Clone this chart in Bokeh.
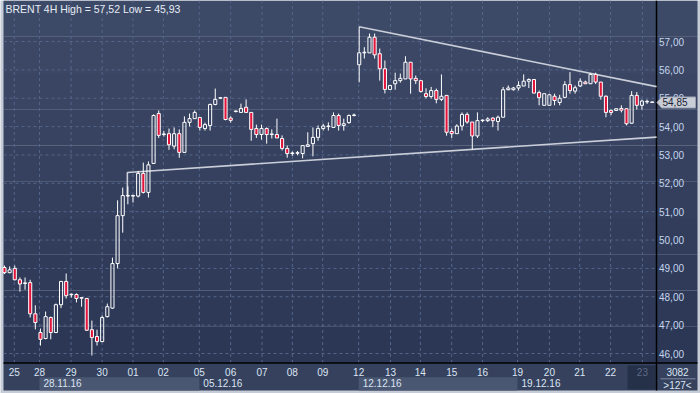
import numpy as np
from bokeh.plotting import figure
from bokeh.models import Range1d
from bokeh.core.properties import value
from bokeh.embed import file_html
from bokeh.resources import INLINE

# ---------------- data ----------------
opens = [49.03, 48.85, 49.00, 48.60, 48.47, 48.50, 47.40, 46.74, 46.53, 47.27,
         46.74, 47.72, 48.54, 48.08, 48.08, 47.96, 47.94, 46.84, 46.60, 46.42,
         47.30, 47.60, 49.17, 50.86, 51.55, 51.55, 51.55, 52.35, 51.68, 52.70,
         54.46, 53.72, 53.75, 53.31, 53.75, 53.09, 54.15, 54.28, 54.32, 53.93,
         54.04, 54.78, 55.00, 55.03, 54.30, 54.53, 54.50, 54.68, 54.50, 53.93,
         53.72, 53.93, 53.72, 53.72, 53.58, 53.23, 53.05, 53.06, 53.05, 53.30,
         53.40, 53.62, 53.93, 54.00, 53.97, 54.39, 54.04, 54.14, 54.39, 56.18,
         56.60, 56.60, 57.15, 56.57, 56.04, 55.31, 55.51, 55.62, 55.68, 56.27,
         55.70, 55.62, 55.16, 55.06, 55.27, 54.96, 55.10, 53.83, 53.75, 54.02,
         54.43, 54.16, 53.67, 54.21, 54.21, 54.30, 54.18, 54.33, 55.30, 55.30,
         55.36, 55.43, 55.60, 55.66, 55.20, 54.75, 54.75, 55.07, 54.85, 55.03,
         55.48, 55.25, 55.43, 55.57, 55.51, 55.84, 55.57, 55.07, 54.57, 54.57,
         54.64, 54.63, 54.12, 55.10, 54.75, 54.87, 54.86]
highs = [49.10, 49.07, 49.10, 48.68, 48.68, 48.60, 47.70, 46.88, 47.48, 47.30,
         47.76, 48.56, 48.82, 48.12, 48.12, 47.98, 47.96, 47.16, 46.84, 47.34,
         47.76, 49.38, 51.40, 51.85, 51.89, 51.60, 52.44, 52.73, 52.77, 54.43,
         54.57, 53.85, 53.93, 53.97, 53.90, 54.36, 54.46, 54.57, 54.32, 54.14,
         54.81, 55.34, 55.03, 55.03, 54.36, 54.56, 54.81, 54.96, 54.50, 54.07,
         54.07, 53.97, 53.90, 54.28, 53.69, 53.33, 53.12, 53.14, 53.33, 53.80,
         53.97, 54.04, 54.10, 54.15, 54.50, 54.46, 54.28, 54.43, 54.46, 57.52,
         56.80, 57.28, 57.28, 56.75, 56.33, 55.45, 55.90, 55.87, 56.48, 56.27,
         55.80, 55.62, 55.35, 55.40, 55.34, 55.84, 55.10, 53.93, 54.08, 54.50,
         54.50, 54.16, 54.50, 54.25, 54.33, 54.33, 54.39, 55.40, 55.45, 55.40,
         55.60, 55.84, 55.70, 55.66, 55.27, 55.16, 55.16, 55.16, 55.12, 55.60,
         55.92, 55.45, 55.70, 55.62, 55.88, 55.90, 55.57, 55.10, 54.60, 54.63,
         54.75, 54.63, 55.25, 55.22, 54.95, 54.95, 54.88]
lows = [48.80, 48.83, 48.58, 48.18, 48.25, 47.27, 46.85, 46.28, 46.50, 46.50,
        46.72, 47.60, 47.94, 47.97, 47.80, 47.65, 46.80, 45.93, 46.28, 46.40,
        47.27, 47.58, 49.00, 50.26, 51.26, 51.32, 51.50, 51.64, 51.50, 52.70,
        53.60, 53.65, 53.18, 53.20, 52.90, 53.09, 54.00, 54.28, 53.86, 53.86,
        53.86, 54.75, 54.97, 54.22, 54.14, 54.50, 54.50, 54.50, 53.50, 53.60,
        53.54, 53.40, 53.58, 53.60, 53.16, 52.90, 52.97, 52.99, 52.88, 53.30,
        52.95, 53.50, 53.86, 53.86, 53.97, 53.86, 53.86, 54.10, 54.36, 55.56,
        56.40, 56.60, 56.40, 55.62, 55.17, 55.31, 55.30, 55.55, 55.68, 55.16,
        55.50, 55.20, 54.99, 54.99, 54.82, 54.90, 53.68, 53.60, 53.75, 53.86,
        54.10, 53.19, 53.60, 54.16, 54.16, 53.98, 53.86, 54.33, 55.28, 55.27,
        55.27, 55.43, 55.36, 55.18, 54.75, 54.75, 54.75, 54.75, 54.75, 55.00,
        55.16, 55.16, 55.40, 55.50, 55.50, 55.50, 54.95, 54.33, 54.40, 54.55,
        54.50, 54.04, 54.10, 54.60, 54.60, 54.80, 54.84]
closes = [48.85, 48.95, 48.60, 48.45, 48.48, 47.40, 47.09, 46.50, 47.30, 46.74,
          47.72, 48.54, 48.04, 48.07, 47.94, 47.95, 46.82, 46.56, 46.42, 47.27,
          47.65, 49.17, 50.86, 51.57, 51.57, 51.57, 52.35, 51.68, 52.65, 54.39,
          53.69, 53.73, 53.36, 53.75, 53.09, 54.15, 54.28, 54.50, 53.97, 54.07,
          54.78, 54.96, 55.02, 54.25, 54.22, 54.55, 54.64, 54.50, 53.90, 53.72,
          53.93, 53.72, 53.73, 53.60, 53.23, 53.05, 53.06, 53.07, 53.33, 53.36,
          53.62, 53.93, 54.02, 54.02, 54.39, 54.04, 54.10, 54.39, 54.40, 56.60,
          56.62, 57.15, 56.53, 56.04, 55.31, 55.45, 55.62, 55.70, 56.27, 55.68,
          55.62, 55.24, 55.06, 55.27, 54.96, 55.07, 53.80, 53.75, 54.02, 54.43,
          54.16, 53.67, 54.21, 54.22, 54.27, 54.21, 54.33, 55.30, 55.36, 55.36,
          55.45, 55.60, 55.66, 55.18, 55.02, 55.16, 55.12, 54.92, 55.00, 55.48,
          55.27, 55.37, 55.60, 55.51, 55.84, 55.57, 55.07, 54.50, 54.50, 54.63,
          54.58, 54.10, 55.10, 54.75, 54.90, 54.87, 54.85]

day_pos = [1.9, 6.8, 12.95, 19.0, 25.0, 30.9, 37.9, 44.0, 50.1, 56.0, 61.9,
           68.9, 75.1, 80.9, 87.0, 93.0, 99.8, 106.0, 111.9, 117.9, 124.1]
day_labels = ["25", "28", "29", "30", "01", "02", "05", "06", "07", "08", "09",
              "12", "13", "14", "15", "16", "19", "20", "21", "22", "23"]
week_pos = [6.8, 37.9, 68.9, 99.8]
week_labels = ["28.11.16", "05.12.16", "12.12.16", "19.12.16"]
price_ticks = [46, 47, 48, 49, 50, 51, 52, 53, 54, 55, 56, 57]

upper_trend_x = [69.0, 126.85]
upper_trend_y = [57.52, 55.41]
lower_trend_x = [23.9, 23.9, 126.85]
lower_trend_y = [51.55, 52.38, 53.63]

last_price = 54.85
total_bars = "3082"
visible_bars = ">127<"
title_text = "BRENT 4H High = 57,52 Low = 45,93"

# ---------------- layout / style ----------------
W, H = 700, 393
BAR_PX, BAR0_PX = 5.1405, 4.0      # pixels per bar, pixel of first bar
PPU, P57_PX = 28.364, 41.0          # pixels per price unit, pixel of 57.00


def xd(px):
    return (px - BAR0_PX) / BAR_PX


def yd(py):
    return 57.0 - (py - P57_PX) / PPU


FONT = value("Liberation Sans")
BG_TOP = np.array([0x3d, 0x4a, 0x67])
BG_BOT = np.array([0x2b, 0x37, 0x55])
FRAME_LIGHT = "#c6ccd7"
AXIS_BG = "#35415d"
BAND = "#4a5772"
GRID = "#55658a"
RED = "#e2143c"
TXT = "#dbe5f4"
PANEL_X = 656.0     # plot / price-panel boundary
AXIS_Y = 362.5      # plot / date-axis boundary

p = figure(width=W, height=H, x_range=Range1d(xd(0), xd(W)), y_range=Range1d(yd(H), yd(0)),
           output_backend="svg", toolbar_location=None, title=None,
           x_axis_location=None, y_axis_location=None, min_border=0,
           background_fill_color=FRAME_LIGHT, border_fill_color=FRAME_LIGHT,
           outline_line_color=None)
p.xgrid.visible = False
p.ygrid.visible = False

# stepped gradient background (plot + price panel)
nb = 10
edges = np.linspace(0, AXIS_Y, nb + 1)
cols = []
for i in range(nb):
    t = i / (nb - 1)
    c = (BG_TOP * (1 - t) + BG_BOT * t).astype(int)
    cols.append("#%02x%02x%02x" % tuple(c))
p.quad(left=xd(3), right=xd(697), top=[yd(e) for e in edges[:-1]],
       bottom=[yd(e) for e in edges[1:]], fill_color=cols, line_color=None)

# date axis zone
p.quad(left=[xd(3)], right=[xd(697)], top=[yd(AXIS_Y)], bottom=[yd(390)],
       fill_color=AXIS_BG, line_color=None)
band_l, band_r = [], []
for i in range(0, len(week_pos), 2):
    band_l.append(week_pos[i])
    band_r.append(week_pos[i + 1] if i + 1 < len(week_pos) else xd(PANEL_X))
p.quad(left=band_l, right=band_r, top=yd(376.7), bottom=yd(390),
       fill_color=BAND, line_color=None)
p.quad(left=[day_pos[-1] - 2.9], right=[xd(PANEL_X - 1)], top=[yd(365)], bottom=[yd(389)],
       fill_color="#253049", line_color=None)

# grid lines
p.segment(x0=day_pos, x1=day_pos, y0=yd(AXIS_Y), y1=yd(0),
          line_color=GRID, line_dash="3 3", line_width=1)
p.segment(x0=xd(3), x1=xd(PANEL_X), y0=price_ticks, y1=price_ticks,
          line_color=GRID, line_dash="3 3", line_width=1)

# separating black lines
p.segment(x0=[xd(3)], x1=[xd(697)], y0=[yd(AXIS_Y)], y1=[yd(AXIS_Y)],
          line_color="black", line_width=1.5)
p.segment(x0=[xd(PANEL_X)], x1=[xd(PANEL_X)], y0=[yd(0)], y1=[yd(390)],
          line_color="black", line_width=1.5)

# trend lines
p.line(upper_trend_x, upper_trend_y, line_color="#c9ced8", line_width=1.6)
p.line(lower_trend_x, lower_trend_y, line_color="#c9ced8", line_width=1.6)

# candles
o = np.array(opens); h = np.array(highs); l = np.array(lows); c = np.array(closes)
x = np.arange(len(o))
btop = np.maximum(o, c)
bbot = np.minimum(o, c)
btop = np.maximum(btop, bbot + 0.02)
p.segment(x0=x, x1=x, y0=btop, y1=h, line_color="white", line_width=1)
p.segment(x0=x, x1=x, y0=l, y1=bbot, line_color="white", line_width=1)
up = c >= o
p.vbar(x=x[up], top=btop[up], bottom=bbot[up], width=0.6, fill_alpha=0,
       line_color="white", line_width=1)
p.vbar(x=x[~up], top=btop[~up], bottom=bbot[~up], width=0.6, fill_color=RED,
       line_color="white", line_width=1)

# title
p.text(x=[xd(5)], y=[yd(8.5)], text=[title_text], text_baseline="middle",
       text_color="#e6ecf6", text_font=FONT, text_font_size="10.5px")

# price scale labels
price_txt = [("%.2f" % t).replace(".", ",") for t in price_ticks]
p.text(x=xd(658.5), y=price_ticks, text=price_txt, text_baseline="middle",
       text_color="#c6d6ee", text_font=FONT, text_font_size="10px")

# last price marker
half = 5.5 / PPU
p.patch(x=[xd(656.5), xd(661), xd(695), xd(695), xd(661)],
        y=[last_price, last_price + half, last_price + half, last_price - half, last_price - half],
        fill_color="#c9cdd6", line_color="#9aa2b2", line_width=1)
p.text(x=[xd(662)], y=[last_price], text=[("%.2f" % last_price).replace(".", ",")],
       text_baseline="middle", text_color="#1b2233", text_font=FONT, text_font_size="10px")

# date labels
dl_col = [TXT] * (len(day_labels) - 1) + ["#5d6a86"]
p.text(x=day_pos, y=yd(371.5), text=day_labels, text_align="center",
       text_baseline="middle", text_color=dl_col, text_font=FONT, text_font_size="10px")
p.text(x=week_pos, y=yd(382.5), text=week_labels, x_offset=4, text_align="left",
       text_baseline="middle", text_color=TXT, text_font=FONT, text_font_size="10px")

# bar counters
p.text(x=[xd(677)], y=[yd(371)], text=[total_bars], text_align="center",
       text_baseline="middle", text_color=TXT, text_font=FONT, text_font_size="10px")
p.segment(x0=[xd(660)], x1=[xd(695)], y0=[yd(378.3)], y1=[yd(378.3)],
          line_color="#7d8aa6", line_width=1)
p.text(x=[xd(677)], y=[yd(385)], text=[visible_bars], text_align="center",
       text_baseline="middle", text_color=TXT, text_font=FONT, text_font_size="10px")

open("out.html", "w").write(file_html(p, INLINE))
